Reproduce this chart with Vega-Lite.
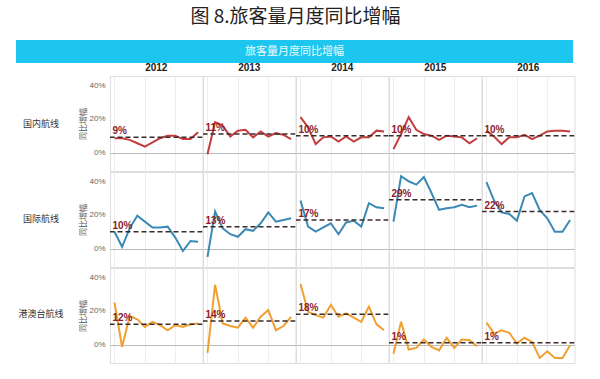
{
  "$schema": "https://vega.github.io/schema/vega-lite/v6.json",
  "padding": {"left": 16, "top": 8, "right": 5, "bottom": 4},
  "background": "white",
  "title": {"text": "图 8.旅客量月度同比增幅", "fontSize": 19, "font": "Noto Sans CJK SC", "fontWeight": "normal", "color": "#222", "anchor": "middle", "offset": 13},
  "config": {
    "font": "Liberation Sans, Noto Sans CJK SC",
    "view": {"stroke": "#dddddd"},
    "concat": {"spacing": 0}
  },
  "vconcat": [
    {
      "width": 557,
      "height": 23,
      "view": {"fill": "#1dc6ee", "stroke": null},
      "data": {"values": [{"t": "旅客量月度同比增幅"}]},
      "mark": {"type": "text", "color": "#eaf9fe", "fontSize": 11, "font": "Noto Sans CJK SC"},
      "encoding": {"text": {"field": "t", "type": "nominal"}}
    },
    {
      "spacing": 13,
      "hconcat": [
        {
          "width": 50,
          "height": 285,
          "view": {"stroke": null},
          "data": {"values": [{"r": "国内航线"}, {"r": "国际航线"}, {"r": "港澳台航线"}]},
          "mark": {"type": "text", "fontSize": 9, "color": "#333", "font": "Noto Sans CJK SC"},
          "encoding": {
            "y": {"field": "r", "type": "nominal", "sort": ["国内航线", "国际航线", "港澳台航线"], "axis": null},
            "text": {"field": "r", "type": "nominal"}
          }
        },
        {
          "data": {"values": [
            {"r":"国内航线","y":2012,"m":1,"v":8.5,"a":9},{"r":"国内航线","y":2012,"m":2,"v":8.5,"a":9},{"r":"国内航线","y":2012,"m":3,"v":7.5,"a":9},{"r":"国内航线","y":2012,"m":4,"v":5.5,"a":9},{"r":"国内航线","y":2012,"m":5,"v":3.5,"a":9},{"r":"国内航线","y":2012,"m":6,"v":6,"a":9},{"r":"国内航线","y":2012,"m":7,"v":8.5,"a":9},{"r":"国内航线","y":2012,"m":8,"v":10,"a":9},{"r":"国内航线","y":2012,"m":9,"v":10,"a":9},{"r":"国内航线","y":2012,"m":10,"v":8,"a":9},{"r":"国内航线","y":2012,"m":11,"v":8,"a":9},{"r":"国内航线","y":2012,"m":12,"v":12,"a":9},
            {"r":"国内航线","y":2013,"m":1,"v":-1,"a":11},{"r":"国内航线","y":2013,"m":2,"v":18,"a":11},{"r":"国内航线","y":2013,"m":3,"v":16,"a":11},{"r":"国内航线","y":2013,"m":4,"v":9.5,"a":11},{"r":"国内航线","y":2013,"m":5,"v":13,"a":11},{"r":"国内航线","y":2013,"m":6,"v":13.5,"a":11},{"r":"国内航线","y":2013,"m":7,"v":9,"a":11},{"r":"国内航线","y":2013,"m":8,"v":12.5,"a":11},{"r":"国内航线","y":2013,"m":9,"v":9.5,"a":11},{"r":"国内航线","y":2013,"m":10,"v":11.5,"a":11},{"r":"国内航线","y":2013,"m":11,"v":10.5,"a":11},{"r":"国内航线","y":2013,"m":12,"v":8,"a":11},
            {"r":"国内航线","y":2014,"m":1,"v":21,"a":10},{"r":"国内航线","y":2014,"m":2,"v":15,"a":10},{"r":"国内航线","y":2014,"m":3,"v":5,"a":10},{"r":"国内航线","y":2014,"m":4,"v":9,"a":10},{"r":"国内航线","y":2014,"m":5,"v":9.5,"a":10},{"r":"国内航线","y":2014,"m":6,"v":6.5,"a":10},{"r":"国内航线","y":2014,"m":7,"v":9.5,"a":10},{"r":"国内航线","y":2014,"m":8,"v":6.5,"a":10},{"r":"国内航线","y":2014,"m":9,"v":9,"a":10},{"r":"国内航线","y":2014,"m":10,"v":9,"a":10},{"r":"国内航线","y":2014,"m":11,"v":13,"a":10},{"r":"国内航线","y":2014,"m":12,"v":12.5,"a":10},
            {"r":"国内航线","y":2015,"m":1,"v":2,"a":10},{"r":"国内航线","y":2015,"m":2,"v":11,"a":10},{"r":"国内航线","y":2015,"m":3,"v":21,"a":10},{"r":"国内航线","y":2015,"m":4,"v":13.5,"a":10},{"r":"国内航线","y":2015,"m":5,"v":11,"a":10},{"r":"国内航线","y":2015,"m":6,"v":10,"a":10},{"r":"国内航线","y":2015,"m":7,"v":7.5,"a":10},{"r":"国内航线","y":2015,"m":8,"v":10,"a":10},{"r":"国内航线","y":2015,"m":9,"v":9.5,"a":10},{"r":"国内航线","y":2015,"m":10,"v":9,"a":10},{"r":"国内航线","y":2015,"m":11,"v":5.5,"a":10},{"r":"国内航线","y":2015,"m":12,"v":8.5,"a":10},
            {"r":"国内航线","y":2016,"m":1,"v":13,"a":10},{"r":"国内航线","y":2016,"m":2,"v":9.5,"a":10},{"r":"国内航线","y":2016,"m":3,"v":5,"a":10},{"r":"国内航线","y":2016,"m":4,"v":9,"a":10},{"r":"国内航线","y":2016,"m":5,"v":9,"a":10},{"r":"国内航线","y":2016,"m":6,"v":10.5,"a":10},{"r":"国内航线","y":2016,"m":7,"v":8,"a":10},{"r":"国内航线","y":2016,"m":8,"v":10,"a":10},{"r":"国内航线","y":2016,"m":9,"v":12.5,"a":10},{"r":"国内航线","y":2016,"m":10,"v":13,"a":10},{"r":"国内航线","y":2016,"m":11,"v":13,"a":10},{"r":"国内航线","y":2016,"m":12,"v":12.5,"a":10},
            {"r":"国际航线","y":2012,"m":1,"v":10,"a":10},{"r":"国际航线","y":2012,"m":2,"v":1,"a":10},{"r":"国际航线","y":2012,"m":3,"v":12,"a":10},{"r":"国际航线","y":2012,"m":4,"v":19.5,"a":10},{"r":"国际航线","y":2012,"m":5,"v":16,"a":10},{"r":"国际航线","y":2012,"m":6,"v":12.5,"a":10},{"r":"国际航线","y":2012,"m":7,"v":12.5,"a":10},{"r":"国际航线","y":2012,"m":8,"v":13,"a":10},{"r":"国际航线","y":2012,"m":9,"v":6.5,"a":10},{"r":"国际航线","y":2012,"m":10,"v":-1.5,"a":10},{"r":"国际航线","y":2012,"m":11,"v":4.5,"a":10},{"r":"国际航线","y":2012,"m":12,"v":4,"a":10},
            {"r":"国际航线","y":2013,"m":1,"v":-5,"a":13},{"r":"国际航线","y":2013,"m":2,"v":22,"a":13},{"r":"国际航线","y":2013,"m":3,"v":12,"a":13},{"r":"国际航线","y":2013,"m":4,"v":8.5,"a":13},{"r":"国际航线","y":2013,"m":5,"v":7,"a":13},{"r":"国际航线","y":2013,"m":6,"v":11.5,"a":13},{"r":"国际航线","y":2013,"m":7,"v":10.5,"a":13},{"r":"国际航线","y":2013,"m":8,"v":15,"a":13},{"r":"国际航线","y":2013,"m":9,"v":21.5,"a":13},{"r":"国际航线","y":2013,"m":10,"v":16,"a":13},{"r":"国际航线","y":2013,"m":11,"v":17,"a":13},{"r":"国际航线","y":2013,"m":12,"v":18,"a":13},
            {"r":"国际航线","y":2014,"m":1,"v":28.5,"a":17},{"r":"国际航线","y":2014,"m":2,"v":13,"a":17},{"r":"国际航线","y":2014,"m":3,"v":10,"a":17},{"r":"国际航线","y":2014,"m":4,"v":12.5,"a":17},{"r":"国际航线","y":2014,"m":5,"v":15,"a":17},{"r":"国际航线","y":2014,"m":6,"v":8.5,"a":17},{"r":"国际航线","y":2014,"m":7,"v":15.5,"a":17},{"r":"国际航线","y":2014,"m":8,"v":16.5,"a":17},{"r":"国际航线","y":2014,"m":9,"v":13,"a":17},{"r":"国际航线","y":2014,"m":10,"v":27,"a":17},{"r":"国际航线","y":2014,"m":11,"v":24.5,"a":17},{"r":"国际航线","y":2014,"m":12,"v":24,"a":17},
            {"r":"国际航线","y":2015,"m":1,"v":16,"a":29},{"r":"国际航线","y":2015,"m":2,"v":43,"a":29},{"r":"国际航线","y":2015,"m":3,"v":40,"a":29},{"r":"国际航线","y":2015,"m":4,"v":38,"a":29},{"r":"国际航线","y":2015,"m":5,"v":42.5,"a":29},{"r":"国际航线","y":2015,"m":6,"v":33,"a":29},{"r":"国际航线","y":2015,"m":7,"v":23,"a":29},{"r":"国际航线","y":2015,"m":8,"v":24,"a":29},{"r":"国际航线","y":2015,"m":9,"v":24.5,"a":29},{"r":"国际航线","y":2015,"m":10,"v":26,"a":29},{"r":"国际航线","y":2015,"m":11,"v":24.5,"a":29},{"r":"国际航线","y":2015,"m":12,"v":25.5,"a":29},
            {"r":"国际航线","y":2016,"m":1,"v":39.5,"a":22},{"r":"国际航线","y":2016,"m":2,"v":28.5,"a":22},{"r":"国际航线","y":2016,"m":3,"v":21.5,"a":22},{"r":"国际航线","y":2016,"m":4,"v":20.5,"a":22},{"r":"国际航线","y":2016,"m":5,"v":16.5,"a":22},{"r":"国际航线","y":2016,"m":6,"v":31,"a":22},{"r":"国际航线","y":2016,"m":7,"v":33,"a":22},{"r":"国际航线","y":2016,"m":8,"v":23,"a":22},{"r":"国际航线","y":2016,"m":9,"v":18,"a":22},{"r":"国际航线","y":2016,"m":10,"v":10,"a":22},{"r":"国际航线","y":2016,"m":11,"v":10,"a":22},{"r":"国际航线","y":2016,"m":12,"v":17,"a":22},
            {"r":"港澳台航线","y":2012,"m":1,"v":25,"a":12},{"r":"港澳台航线","y":2012,"m":2,"v":-1.5,"a":12},{"r":"港澳台航线","y":2012,"m":3,"v":17,"a":12},{"r":"港澳台航线","y":2012,"m":4,"v":15,"a":12},{"r":"港澳台航线","y":2012,"m":5,"v":10.5,"a":12},{"r":"港澳台航线","y":2012,"m":6,"v":13.5,"a":12},{"r":"港澳台航线","y":2012,"m":7,"v":11.5,"a":12},{"r":"港澳台航线","y":2012,"m":8,"v":8.5,"a":12},{"r":"港澳台航线","y":2012,"m":9,"v":11.5,"a":12},{"r":"港澳台航线","y":2012,"m":10,"v":10.5,"a":12},{"r":"港澳台航线","y":2012,"m":11,"v":12,"a":12},{"r":"港澳台航线","y":2012,"m":12,"v":12.5,"a":12},
            {"r":"港澳台航线","y":2013,"m":1,"v":-5,"a":14},{"r":"港澳台航线","y":2013,"m":2,"v":35.5,"a":14},{"r":"港澳台航线","y":2013,"m":3,"v":12.5,"a":14},{"r":"港澳台航线","y":2013,"m":4,"v":11,"a":14},{"r":"港澳台航线","y":2013,"m":5,"v":10,"a":14},{"r":"港澳台航线","y":2013,"m":6,"v":16,"a":14},{"r":"港澳台航线","y":2013,"m":7,"v":10,"a":14},{"r":"港澳台航线","y":2013,"m":8,"v":16.5,"a":14},{"r":"港澳台航线","y":2013,"m":9,"v":20.5,"a":14},{"r":"港澳台航线","y":2013,"m":10,"v":8.5,"a":14},{"r":"港澳台航线","y":2013,"m":11,"v":11,"a":14},{"r":"港澳台航线","y":2013,"m":12,"v":16.5,"a":14},
            {"r":"港澳台航线","y":2014,"m":1,"v":36,"a":18},{"r":"港澳台航线","y":2014,"m":2,"v":19.5,"a":18},{"r":"港澳台航线","y":2014,"m":3,"v":17.5,"a":18},{"r":"港澳台航线","y":2014,"m":4,"v":16,"a":18},{"r":"港澳台航线","y":2014,"m":5,"v":23.5,"a":18},{"r":"港澳台航线","y":2014,"m":6,"v":16.5,"a":18},{"r":"港澳台航线","y":2014,"m":7,"v":18.5,"a":18},{"r":"港澳台航线","y":2014,"m":8,"v":16,"a":18},{"r":"港澳台航线","y":2014,"m":9,"v":13.5,"a":18},{"r":"港澳台航线","y":2014,"m":10,"v":22.5,"a":18},{"r":"港澳台航线","y":2014,"m":11,"v":12,"a":18},{"r":"港澳台航线","y":2014,"m":12,"v":8.5,"a":18},
            {"r":"港澳台航线","y":2015,"m":1,"v":-5.5,"a":1},{"r":"港澳台航线","y":2015,"m":2,"v":13.5,"a":1},{"r":"港澳台航线","y":2015,"m":3,"v":-3,"a":1},{"r":"港澳台航线","y":2015,"m":4,"v":-2,"a":1},{"r":"港澳台航线","y":2015,"m":5,"v":3,"a":1},{"r":"港澳台航线","y":2015,"m":6,"v":-1.5,"a":1},{"r":"港澳台航线","y":2015,"m":7,"v":-3.5,"a":1},{"r":"港澳台航线","y":2015,"m":8,"v":4,"a":1},{"r":"港澳台航线","y":2015,"m":9,"v":-2,"a":1},{"r":"港澳台航线","y":2015,"m":10,"v":3,"a":1},{"r":"港澳台航线","y":2015,"m":11,"v":2.5,"a":1},{"r":"港澳台航线","y":2015,"m":12,"v":-1,"a":1},
            {"r":"港澳台航线","y":2016,"m":1,"v":13,"a":1},{"r":"港澳台航线","y":2016,"m":2,"v":6.5,"a":1},{"r":"港澳台航线","y":2016,"m":3,"v":8.5,"a":1},{"r":"港澳台航线","y":2016,"m":4,"v":7,"a":1},{"r":"港澳台航线","y":2016,"m":5,"v":0.5,"a":1},{"r":"港澳台航线","y":2016,"m":6,"v":4,"a":1},{"r":"港澳台航线","y":2016,"m":7,"v":1.5,"a":1},{"r":"港澳台航线","y":2016,"m":8,"v":-8,"a":1},{"r":"港澳台航线","y":2016,"m":9,"v":-4,"a":1},{"r":"港澳台航线","y":2016,"m":10,"v":-8,"a":1},{"r":"港澳台航线","y":2016,"m":11,"v":-8,"a":1},{"r":"港澳台航线","y":2016,"m":12,"v":-0.5,"a":1}
          ]},
          "spacing": {"row": -2, "column": -2},
          "facet": {
            "row": {"field": "r", "type": "nominal", "sort": ["国内航线", "国际航线", "港澳台航线"], "title": null,
              "header": {"labels": false, "labelPadding": 0}},
            "column": {"field": "y", "type": "ordinal", "title": null,
              "header": {"labelFontSize": 10, "labelFontWeight": "bold", "labelColor": "#222", "labelPadding": 2}}
          },
          "spec": {
            "width": 92.5,
            "height": 95,
            "layer": [
              {
                "mark": {"type": "line", "strokeWidth": 2, "clip": true},
                "encoding": {
                  "x": {"field": "m", "type": "quantitative", "scale": {"domain": [0.41, 12.58], "nice": false, "zero": false},
                    "axis": {"values": [1,2,3,4,5,6,7,8,9,10,11,12], "labelExpr": "datum.value % 2 == 0 ? (datum.value < 10 ? '0' + datum.value : '' + datum.value) : ''", "labelOverlap": false, "title": null, "ticks": false, "domain": false, "gridColor": "#eeeeee", "labelFontSize": 7.5, "labelColor": "#666", "labelPadding": -10}},
                  "y": {"field": "v", "type": "quantitative", "scale": {"domain": [-11, 45.5], "nice": false},
                    "axis": {"values": [0, 20, 40], "labelExpr": "datum.value + '%'", "title": "同比增幅", "titleFont": "Noto Sans CJK SC", "titleFontSize": 8, "titleFontWeight": "normal", "titleColor": "#555", "titlePadding": 1, "labelFontSize": 8, "labelColor": "#666", "ticks": false, "domain": false, "labelPadding": 4, "minExtent": 20,
                      "gridColor": {"condition": {"test": "datum.value === 0", "value": "#bbbbbb"}, "value": "transparent"}}},
                  "color": {"field": "r", "type": "nominal", "scale": {"domain": ["国内航线", "国际航线", "港澳台航线"], "range": ["#c43c3c", "#3b8ab5", "#f0a033"]}, "legend": null}
                }
              },
              {
                "mark": {"type": "rule", "strokeDash": [5, 3], "color": "#3b2a2a", "strokeWidth": 1.5, "clip": true},
                "encoding": {"y": {"field": "a", "aggregate": "mean", "type": "quantitative"}}
              },
              {
                "transform": [{"filter": "datum.m == 1"}, {"calculate": "datum.a + '%'", "as": "lbl"}],
                "mark": {"type": "text", "align": "left", "baseline": "bottom", "dx": -2, "dy": -1, "fontWeight": "bold", "fontSize": 10, "color": "#8b1c2c"},
                "encoding": {
                  "x": {"field": "m", "type": "quantitative"},
                  "y": {"field": "a", "type": "quantitative"},
                  "text": {"field": "lbl", "type": "nominal"}
                }
              }
            ]
          }
        }
      ]
    }
  ]
}
